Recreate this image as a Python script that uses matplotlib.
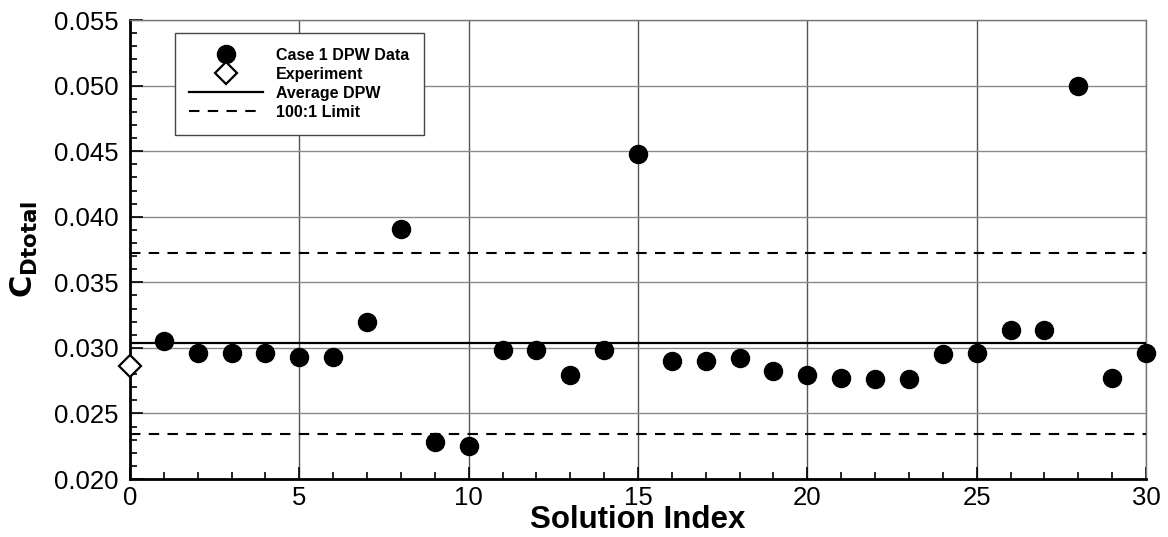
import matplotlib.pyplot as plt
import numpy as np
from matplotlib.ticker import MultipleLocator, FormatStrFormatter

plt.rcParams['font.family'] = ['Liberation Sans', 'DejaVu Sans']

# ---- data ----
solution_index = np.arange(1, 31)
cd_total = [0.0305, 0.0296, 0.0296, 0.0296, 0.0293, 0.0293, 0.0320, 0.0391,
            0.0228, 0.0225, 0.0298, 0.0298, 0.0279, 0.0298, 0.0448, 0.0290,
            0.0290, 0.0292, 0.0282, 0.0279, 0.0277, 0.0276, 0.0276, 0.0295,
            0.0296, 0.0314, 0.0314, 0.0500, 0.0277, 0.0296]
exp_index = [0]
exp_cd = [0.0286]
avg_dpw = 0.0304
limit_hi = 0.0372
limit_lo = 0.0234

fig = plt.figure(figsize=(11.68, 5.37), dpi=100)
ax = fig.add_axes([0.1113, 0.108, 0.8699, 0.8547])

ax.plot(solution_index, cd_total, 'o', color='k', ms=13, zorder=5,
        label='Case 1 DPW Data', clip_on=False)
ax.plot(exp_index, exp_cd, 'D', mfc='white', mec='k', mew=1.6, ms=11.5,
        zorder=6, label='Experiment', clip_on=False)
ax.axhline(avg_dpw, color='k', lw=1.6, label='Average DPW', zorder=4)
ax.axhline(limit_hi, color='k', lw=1.5, ls=(0, (5, 4)), label='100:1 Limit', zorder=4)
ax.axhline(limit_lo, color='k', lw=1.5, ls=(0, (5, 4)), zorder=4)

ax.set_xlim(0, 30)
ax.set_ylim(0.020, 0.055)
ax.xaxis.set_major_locator(MultipleLocator(5))
ax.xaxis.set_minor_locator(MultipleLocator(1))
ax.yaxis.set_major_locator(MultipleLocator(0.005))
ax.yaxis.set_minor_locator(MultipleLocator(0.001))
ax.yaxis.set_major_formatter(FormatStrFormatter('%.3f'))

ax.grid(axis='y', which='major', color='#8a8a8a', lw=1.0, zorder=1)
ax.grid(axis='x', which='major', color='#555555', lw=1.0, zorder=1)

ax.tick_params(which='both', direction='in', top=False, right=False,
               labelsize=18.5, width=1.2, color='k')
ax.tick_params(which='major', length=9)
ax.tick_params(which='minor', length=5)
ax.tick_params(axis='x', pad=5)
ax.tick_params(axis='y', pad=8)

for side in ['left', 'bottom']:
    ax.spines[side].set_linewidth(2)
    ax.spines[side].set_color('k')
for side in ['top', 'right']:
    ax.spines[side].set_linewidth(1)
    ax.spines[side].set_color('#777777')

ax.set_xlabel('Solution Index', fontsize=22.5, fontweight='bold')
ax.xaxis.set_label_coords(0.5, -0.057)
ax.set_ylabel(r'$\mathbf{C_{Dtotal}}$', fontsize=22, labelpad=10)

leg = ax.legend(loc='upper left', bbox_to_anchor=(0.044, 0.972),
                prop={'weight': 'bold', 'size': 11.5}, fancybox=False,
                edgecolor='#444444', framealpha=1, handlelength=4.6,
                handleheight=1.0, labelspacing=0.22, borderpad=0.9,
                handletextpad=0.85, borderaxespad=0)
leg.get_frame().set_linewidth(1.0)
leg.set_zorder(10)

fig.savefig('out.png', dpi=100)
